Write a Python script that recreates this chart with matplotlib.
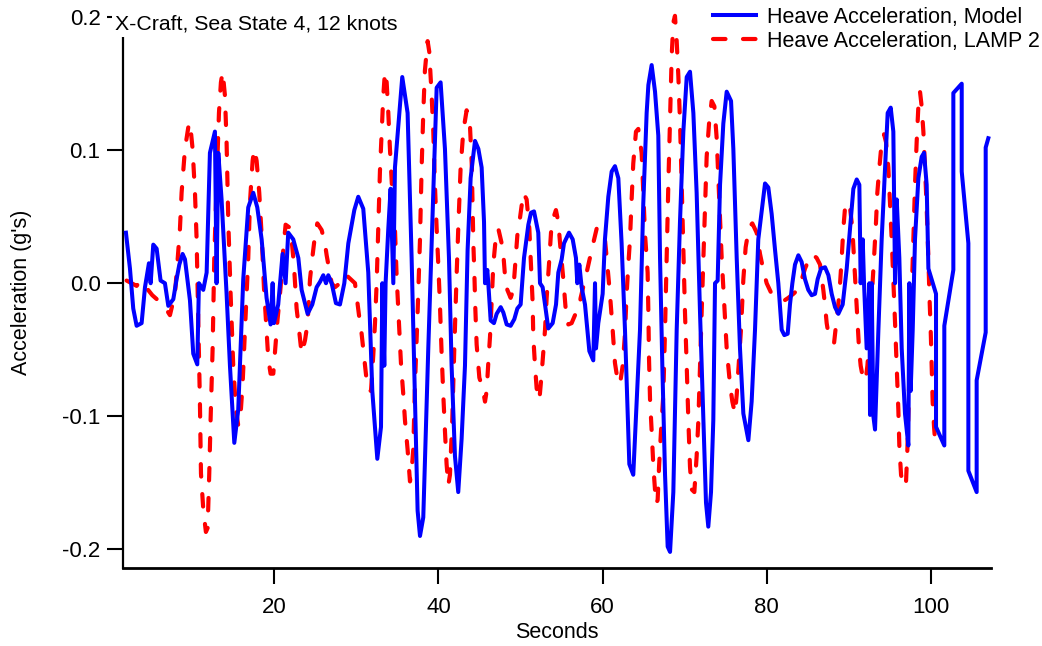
import matplotlib
matplotlib.use("Agg")
import matplotlib.pyplot as plt
from matplotlib.ticker import FixedLocator, FuncFormatter

# Heave acceleration time histories, X-Craft in sea state 4 at 12 knots
model_t = [
    1.93, 2.42, 2.82, 3.23, 3.84, 4.25, 4.73, 4.94, 5.26, 5.67, 6.15, 6.68, 7.09, 7.70,
    8.10, 8.43, 8.83, 9.12, 9.73, 10.13, 10.62, 10.82, 11.35, 11.76, 12.16, 12.77, 12.97,
    13.18, 13.58, 14.19, 14.60, 15.13, 15.61, 16.22, 16.83, 17.44, 17.93, 18.46, 19.06,
    19.55, 19.80, 19.96, 20.48, 21.01, 21.38, 21.70, 22.31, 22.93, 23.33, 24.06, 24.63,
    25.16, 25.57, 25.97, 26.30, 26.58, 26.99, 27.51, 28.00, 28.53, 29.02, 29.75, 30.23,
    30.84, 31.45, 31.94, 32.55, 33.00, 33.16, 33.40, 33.56, 33.89, 34.17, 34.50, 34.70,
    35.19, 35.59, 36.24, 36.73, 37.14, 37.46, 37.75, 38.15, 38.76, 39.25, 39.78, 40.26,
    40.79, 41.28, 41.60, 42.01, 42.41, 42.82, 43.23, 43.55, 43.92, 44.45, 44.86, 45.26,
    45.55, 45.67, 45.95, 46.07, 46.36, 46.76, 47.09, 47.58, 47.90, 48.31, 48.79, 49.24,
    49.61, 50.01, 50.42, 50.95, 51.27, 51.64, 52.16, 52.37, 52.69, 52.98, 53.38, 53.91,
    54.32, 54.60, 55.01, 55.29, 55.90, 56.35, 56.75, 56.91, 57.16, 57.44, 57.85, 58.38,
    58.86, 59.07, 59.19, 59.47, 60.00, 60.28, 60.69, 61.10, 61.50, 61.91, 62.31, 62.72,
    63.00, 63.25, 63.73, 64.14, 64.55, 64.95, 65.36, 65.57, 65.97, 66.38, 66.78, 66.99,
    67.27, 67.60, 67.92, 68.21, 68.61, 69.02, 69.42, 69.83, 70.24, 70.64, 71.05, 71.45,
    71.86, 72.27, 72.59, 72.87, 73.20, 73.48, 73.69, 74.01, 74.30, 74.70, 75.11, 75.64,
    75.92, 76.33, 76.73, 77.14, 77.75, 78.15, 78.56, 78.96, 79.37, 79.78, 80.18, 80.59,
    81.00, 81.40, 81.81, 82.13, 82.54, 82.82, 83.11, 83.43, 83.84, 84.24, 84.65, 85.05,
    85.46, 85.87, 86.19, 86.60, 87.09, 87.50, 87.90, 88.31, 88.71, 89.24, 89.73, 90.13,
    90.54, 90.95, 91.27, 91.43, 91.68, 91.84, 92.16, 92.49, 92.57, 92.77, 92.98, 93.18,
    93.59, 93.99, 94.40, 94.72, 95.09, 95.41, 95.62, 95.82, 96.14, 96.43, 96.83, 97.24,
    97.36, 97.52, 97.77, 98.05, 98.46, 98.86, 99.15, 99.47, 99.68, 100.61, 100.61, 101.62,
    101.62, 102.72, 102.72, 103.74, 103.74, 104.55, 104.55, 105.56, 105.56, 106.66,
    106.66, 106.98,
]
model_acc = [
    0.038, 0.011, -0.019, -0.032, -0.030, -0.003, 0.015, 0.000, 0.029, 0.026, 0.002, 0.000,
    -0.017, -0.012, 0.003, 0.014, 0.022, 0.018, -0.013, -0.053, -0.061, 0.000, -0.005,
    0.008, 0.098, 0.114, 0.000, 0.098, 0.063, -0.008, -0.062, -0.120, -0.095, 0.003,
    0.057, 0.068, 0.057, 0.033, -0.011, -0.031, 0.000, -0.030, -0.016, 0.022, 0.000,
    0.038, 0.033, 0.019, -0.005, -0.023, -0.016, -0.003, 0.001, 0.006, 0.000, 0.006,
    0.000, -0.015, -0.016, 0.000, 0.030, 0.055, 0.065, 0.056, 0.008, -0.081, -0.132,
    -0.108, 0.000, -0.062, 0.000, 0.041, 0.071, 0.000, 0.087, 0.125, 0.155, 0.128, 0.019,
    -0.089, -0.171, -0.190, -0.176, -0.049, 0.046, 0.147, 0.151, 0.101, 0.019, -0.062,
    -0.130, -0.157, -0.117, -0.062, 0.025, 0.079, 0.107, 0.101, 0.087, 0.046, 0.000,
    0.010, 0.000, -0.028, -0.030, -0.023, -0.018, -0.022, -0.031, -0.032, -0.027, -0.019,
    -0.016, 0.019, 0.044, 0.053, 0.054, 0.038, 0.000, -0.003, -0.016, -0.034, -0.030,
    -0.016, 0.008, 0.018, 0.030, 0.038, 0.033, 0.019, 0.000, 0.014, -0.003, -0.016,
    -0.051, -0.058, 0.000, -0.049, -0.030, -0.008, 0.033, 0.065, 0.084, 0.088, 0.079,
    0.030, -0.035, -0.089, -0.136, -0.144, -0.089, -0.035, 0.060, 0.128, 0.149, 0.164,
    0.144, 0.111, 0.019, -0.062, -0.144, -0.198, -0.202, -0.157, -0.035, 0.046, 0.114,
    0.155, 0.159, 0.128, 0.068, -0.022, -0.103, -0.165, -0.183, -0.157, -0.103, 0.000,
    0.002, 0.074, 0.120, 0.144, 0.137, 0.101, 0.019, -0.049, -0.098, -0.118, -0.089,
    -0.035, 0.033, 0.054, 0.075, 0.072, 0.052, 0.025, 0.000, -0.035, -0.039, -0.038,
    -0.016, 0.000, 0.014, 0.021, 0.016, 0.003, -0.005, -0.009, -0.008, 0.003, 0.011,
    0.012, 0.006, -0.008, -0.018, -0.023, -0.016, 0.011, 0.041, 0.071, 0.078, 0.074,
    0.000, 0.033, 0.000, -0.049, 0.000, -0.099, 0.000, -0.100, -0.110, -0.035, 0.033,
    0.087, 0.128, 0.132, 0.114, 0.000, 0.063, 0.019, -0.049, -0.098, -0.122, 0.000,
    -0.081, -0.035, 0.033, 0.079, 0.095, 0.098, 0.074, 0.011, -0.008, -0.108, -0.122,
    -0.032, 0.010, 0.143, 0.150, 0.084, 0.030, -0.141, -0.157, -0.073, -0.037, 0.102,
    0.109,
]

lamp_t = [
    2.01, 2.62, 3.23, 3.72, 5.14, 5.87, 6.68, 7.29, 7.90, 8.18, 8.51, 8.71, 9.12, 9.52,
    9.73, 10.05, 10.34, 10.54, 10.66, 10.82, 10.94, 11.07, 11.35, 11.67, 11.88, 12.08,
    12.24, 12.49, 12.69, 12.97, 13.26, 13.50, 13.71, 13.99, 14.19, 14.40, 14.68, 15.00,
    15.33, 15.61, 15.90, 16.14, 16.43, 16.83, 17.03, 17.36, 17.56, 17.85, 18.17, 18.46,
    18.74, 19.06, 19.27, 19.55, 19.88, 20.08, 20.36, 20.77, 21.09, 21.38, 21.83, 22.11,
    22.39, 22.72, 22.93, 23.33, 23.74, 24.06, 24.35, 24.63, 24.96, 25.24, 25.77, 26.17,
    26.38, 26.99, 27.39, 28.00, 28.61, 29.83, 30.32, 30.64, 31.05, 31.37, 31.78, 32.06,
    32.27, 32.47, 32.67, 32.87, 33.08, 33.28, 33.48, 33.69, 33.89, 34.09, 34.38, 34.70,
    34.90, 35.19, 35.43, 35.72, 35.92, 36.24, 36.53, 36.73, 36.93, 37.14, 37.46, 37.75,
    37.95, 38.15, 38.35, 38.68, 38.88, 39.17, 39.37, 39.57, 39.78, 39.98, 40.18, 40.38,
    40.59, 40.79, 40.99, 41.20, 41.40, 41.68, 41.93, 42.21, 42.41, 42.70, 43.02, 43.43,
    43.84, 44.05, 44.16, 44.25, 44.37, 44.49, 44.65, 44.98, 45.38, 45.67, 45.87, 46.07,
    46.28, 46.48, 46.68, 47.01, 47.29, 47.70, 47.90, 48.10, 48.39, 48.79, 49.12, 49.40,
    49.61, 49.93, 50.34, 50.74, 51.07, 51.27, 51.47, 51.55, 51.76, 51.96, 52.29, 52.57,
    52.77, 52.98, 53.18, 53.46, 53.71, 53.99, 54.31, 54.60, 54.88, 55.21, 55.53, 55.82,
    56.22, 56.63, 57.04, 57.32, 58.05, 58.66, 59.27, 59.76, 60.28, 60.57, 60.89, 61.22,
    61.50, 61.70, 62.11, 62.44, 62.72, 62.92, 63.13, 63.33, 63.53, 63.73, 64.06, 64.34,
    64.75, 64.95, 65.16, 65.48, 65.57, 65.65, 65.77, 65.97, 66.18, 66.50, 66.70, 66.87,
    67.11, 67.39, 67.60, 67.80, 68.00, 68.12, 68.25, 68.41, 68.61, 68.81, 69.02, 69.22,
    69.42, 69.63, 69.83, 70.03, 70.24, 70.44, 70.64, 70.84, 71.17, 71.45, 71.66, 71.86,
    72.06, 72.27, 72.47, 72.67, 72.96, 73.28, 73.61, 73.89, 74.09, 74.30, 74.50, 74.82,
    75.11, 75.51, 75.80, 76.12, 76.33, 76.61, 76.85, 77.14, 77.42, 77.83, 78.23, 78.76,
    79.17, 79.57, 79.98, 80.51, 81.08, 81.60, 82.13, 82.62, 83.23, 83.92, 84.65, 85.14,
    85.54, 86.07, 86.48, 86.88, 87.08, 87.29, 87.50, 87.90, 88.19, 88.51, 88.84, 89.12,
    89.32, 89.53, 89.81, 90.13, 90.42, 90.66, 90.86, 91.03, 91.23, 91.43, 91.76, 92.04,
    92.25, 92.49, 92.65, 92.85, 93.06, 93.30, 93.46, 93.71, 93.99, 94.28, 94.52, 94.80,
    95.01, 95.21, 95.41, 95.62, 95.82, 96.02, 96.14, 96.35, 96.63, 96.96, 97.12, 97.28,
    97.44, 97.65, 97.85, 98.05, 98.25, 98.46, 98.66, 98.86, 99.07, 99.27, 99.47, 99.68,
    99.80, 99.96, 100.08, 100.20, 100.37, 100.49,
]
lamp_acc = [
    0.002, 0.000, -0.002, 0.002, -0.009, -0.013, -0.018, -0.024, -0.008, 0.014, 0.041,
    0.068, 0.101, 0.117, 0.121, 0.101, 0.068, 0.033, -0.003, -0.049, -0.089, -0.143,
    -0.170, -0.187, -0.184, -0.143, -0.103, -0.049, 0.019, 0.074, 0.128, 0.151, 0.159,
    0.141, 0.106, 0.046, -0.008, -0.062, -0.095, -0.107, -0.098, -0.076, -0.035, 0.019,
    0.060, 0.092, 0.101, 0.092, 0.068, 0.036, -0.003, -0.035, -0.057, -0.068, -0.068,
    -0.052, -0.030, -0.003, 0.025, 0.044, 0.042, 0.033, 0.014, -0.019, -0.030, -0.053,
    -0.043, -0.030, 0.003, 0.019, 0.036, 0.045, 0.040, 0.030, 0.021, 0.000, -0.003,
    0.000, 0.007, 0.000, -0.024, -0.038, -0.062, -0.080, -0.081, -0.054, -0.030, 0.000,
    0.041, 0.084, 0.114, 0.141, 0.159, 0.151, 0.128, 0.101, 0.068, 0.041, 0.006, -0.030,
    -0.060, -0.084, -0.103, -0.125, -0.149, -0.141, -0.125, -0.076, -0.022, 0.033, 0.087,
    0.128, 0.160, 0.182, 0.174, 0.141, 0.114, 0.074, 0.041, 0.014, -0.016, -0.052, -0.084,
    -0.111, -0.136, -0.152, -0.144, -0.103, -0.049, 0.006, 0.041, 0.087, 0.114, 0.130,
    0.118, 0.090, 0.057, 0.030, 0.008, -0.019, -0.046, -0.071, -0.079, -0.089, -0.081,
    -0.060, -0.040, -0.014, 0.014, 0.036, 0.041, 0.030, 0.022, 0.006, -0.005, -0.011,
    -0.005, 0.019, 0.036, 0.049, 0.068, 0.063, 0.041, 0.014, -0.014, -0.040, -0.062,
    -0.079, -0.088, -0.068, -0.052, -0.035, -0.011, 0.014, 0.038, 0.049, 0.055, 0.046,
    0.025, 0.003, -0.022, -0.031, -0.030, -0.024, -0.022, -0.011, 0.008, 0.025, 0.041,
    0.041, 0.033, 0.014, -0.008, -0.035, -0.060, -0.068, -0.076, -0.062, -0.038, -0.008,
    0.014, 0.033, 0.063, 0.090, 0.114, 0.116, 0.098, 0.068, 0.037, 0.008, -0.022, -0.057,
    -0.087, -0.111, -0.138, -0.166, -0.163, -0.138, -0.111, -0.084, -0.035, 0.019, 0.074,
    0.101, 0.133, 0.171, 0.196, 0.201, 0.182, 0.156, 0.122, 0.074, 0.025, -0.022, -0.062,
    -0.103, -0.138, -0.155, -0.157, -0.130, -0.103, -0.062, -0.022, 0.019, 0.060, 0.095,
    0.120, 0.137, 0.133, 0.109, 0.079, 0.046, 0.019, -0.016, -0.049, -0.076, -0.089,
    -0.098, -0.084, -0.057, -0.035, 0.003, 0.027, 0.042, 0.045, 0.038, 0.022, 0.010,
    0.000, -0.007, -0.008, -0.011, -0.013, -0.011, -0.008, -0.004, 0.011, 0.018, 0.022,
    0.019, 0.014, -0.005, -0.016, -0.030, -0.038, -0.041, -0.045, -0.027, -0.008, 0.019,
    0.041, 0.057, 0.061, 0.057, 0.041, 0.014, -0.008, -0.027, -0.049, -0.062, -0.073,
    -0.073, -0.062, -0.043, -0.022, -0.003, 0.019, 0.046, 0.068, 0.087, 0.106, 0.112,
    0.106, 0.087, 0.060, 0.033, 0.003, -0.030, -0.062, -0.095, -0.122, -0.144, -0.153,
    -0.149, -0.125, -0.089, -0.049, -0.008, 0.033, 0.074, 0.106, 0.133, 0.144, 0.133,
    0.114, 0.087, 0.057, 0.019, -0.008, -0.035, -0.062, -0.089, -0.108, -0.118,
]

x_ticks = [20, 40, 60, 80, 100]
y_ticks = [-0.2, -0.1, 0.0, 0.1, 0.2]

plt.rcParams['font.family'] = ['Liberation Sans', 'DejaVu Sans']
plt.rcParams['font.size'] = 15.5

fig = plt.figure(figsize=(10.42, 6.46), dpi=100)
ax = fig.add_axes([0.1185, 0.1203, 0.8325, 0.8531])

ax.plot(model_t, model_acc, color='#0000ff', lw=2.9,
        label='Heave Acceleration, Model', zorder=3)
red, = ax.plot(lamp_t, lamp_acc, color='#ff0000', lw=3.0, ls='--',
               label='Heave Acceleration, LAMP 2', clip_on=False, zorder=2,
               dash_capstyle='round')
red.set_dashes((3.0, 4.2))

ax.set_xlim(1.63, 107.3)
ax.set_ylim(-0.2143, 0.2)

ax.xaxis.set_major_locator(FixedLocator(x_ticks))
ax.yaxis.set_major_locator(FixedLocator(y_ticks))
ax.yaxis.set_major_formatter(FuncFormatter(lambda v, pos: '%.1f' % v))
ax.tick_params(axis='both', direction='out', length=11.5, width=1.5, labelsize=16)
ax.tick_params(axis='x', pad=9)
ax.tick_params(axis='y', pad=5)

for side in ('top', 'right'):
    ax.spines[side].set_visible(False)
ax.spines['left'].set_linewidth(1.6)
ax.spines['bottom'].set_linewidth(2.0)

ax.set_xlabel('Seconds', fontsize=15.5)
ax.xaxis.set_label_coords(0.5, -0.097)
ax.set_ylabel("Acceleration (g's)", fontsize=15.5)
ax.yaxis.set_label_coords(-0.106, 0.5)

fig.text(115 / 1042, 1 - 24 / 646, 'X-Craft, Sea State 4, 12 knots', fontsize=15.3,
         va='center', ha='left',
         bbox=dict(boxstyle='square,pad=0.15', facecolor='white', edgecolor='none'))

ax.legend(loc='upper left', bbox_to_anchor=(713 / 1042, 1 - 7 / 646),
          bbox_transform=fig.transFigure, frameon=False, fontsize=15.5,
          borderpad=0, borderaxespad=0, handlelength=2.0, handletextpad=0.5,
          labelspacing=0.12)

fig.savefig('out.png', dpi=100)
